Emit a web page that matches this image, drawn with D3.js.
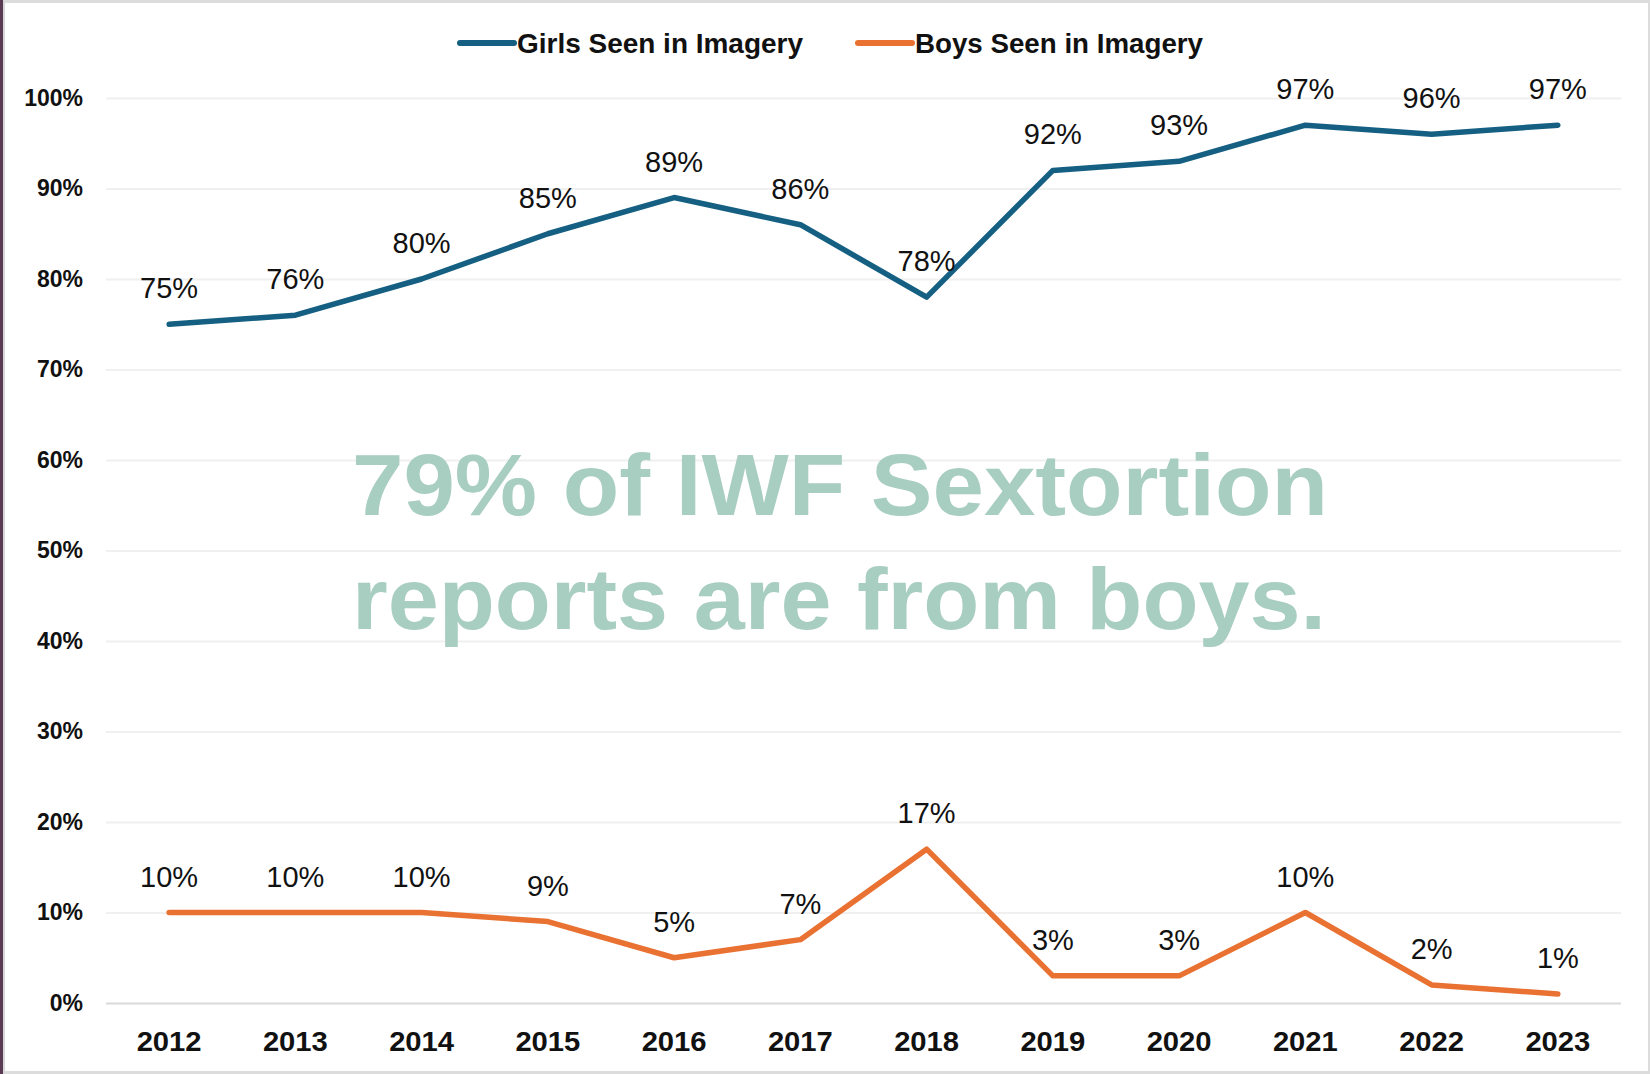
<!DOCTYPE html>
<html>
<head>
<meta charset="utf-8">
<script src="https://cdn.jsdelivr.net/npm/d3@7"></script>
<style>
html,body{margin:0;padding:0;background:#fff;}
svg{display:block;}
</style>
</head>
<body>
<svg id="chart" width="1650" height="1074"></svg>
<script>
const years = ["2012","2013","2014","2015","2016","2017","2018","2019","2020","2021","2022","2023"];
const girls = [75,76,80,85,89,86,78,92,93,97,96,97];
const boys = [10,10,10,9,5,7,17,3,3,10,2,1];
const yTicks = [0,10,20,30,40,50,60,70,80,90,100];
const seriesNames = ["Girls Seen in Imagery","Boys Seen in Imagery"];
const seriesColors = ["#156082","#E97132"];
const overlayLines = ["79% of IWF Sextortion","reports are from boys."];

const svg = d3.select("#chart");
const W = 1650, H = 1074;
const margin = {left:106, right:29, top:98, bottom:71};
const FONT = "'Liberation Sans', Arial, sans-serif";

// frame
svg.append("rect").attr("x",0).attr("y",0).attr("width",W).attr("height",H).attr("fill","#fff");
svg.append("rect").attr("x",0).attr("y",0).attr("width",W).attr("height",3).attr("fill","#dcdcdc");
svg.append("rect").attr("x",0).attr("y",H-3).attr("width",W).attr("height",3).attr("fill","#dcdcdc");
svg.append("rect").attr("x",W-2).attr("y",0).attr("width",2).attr("height",H).attr("fill","#dcdcdc");
svg.append("rect").attr("x",0).attr("y",0).attr("width",3).attr("height",H).attr("fill","#5a3a55");
svg.append("rect").attr("x",3).attr("y",0).attr("width",2).attr("height",H).attr("fill","#d8d8d8");

const x = d3.scaleBand().domain(years).range([margin.left, W - margin.right]);
const y = d3.scaleLinear().domain([0,100]).range([H - margin.bottom, margin.top]);
const cx = d => x(d) + x.bandwidth()/2;

// gridlines + y labels
const yAxis = d3.axisLeft(y).tickValues(yTicks).tickSize(-(W - margin.left - margin.right)).tickFormat(d => d + "%").tickPadding(23);
const gy = svg.append("g").attr("transform", `translate(${margin.left},0)`).call(yAxis);
gy.select(".domain").remove();
gy.selectAll(".tick line").attr("stroke", d => d === 0 ? "#d9d9d9" : "#f0f0f0").attr("stroke-width", 2);
gy.selectAll(".tick text").attr("font-family",FONT).attr("font-weight","bold").attr("font-size","23px").attr("fill","#111");

// x axis
const xAxis = d3.axisBottom(x).tickSize(0).tickPadding(29);
const gx = svg.append("g").attr("transform", `translate(0,${H - margin.bottom})`).call(xAxis);
gx.select(".domain").remove();
gx.selectAll(".tick text").attr("font-family",FONT).attr("font-weight","bold").attr("font-size","27px").attr("fill","#111")
  .attr("textLength",65).attr("lengthAdjust","spacingAndGlyphs");

// overlay text
const ov = svg.append("g");
overlayLines.forEach((t,i) => {
  ov.append("text").attr("x",352).attr("y", i===0 ? 515 : 629)
    .attr("textLength", i===0 ? 976 : 974).attr("lengthAdjust","spacingAndGlyphs")
    .attr("font-family",FONT).attr("font-weight","bold")
    .attr("font-size","88px").attr("fill","#a8cdc1").text(t);
});

// lines
const line = d3.line().x((d,i) => cx(years[i])).y(d => y(d));
[girls, boys].forEach((s,k) => {
  svg.append("path").datum(s).attr("d", line).attr("fill","none")
    .attr("stroke", seriesColors[k]).attr("stroke-width",5.5)
    .attr("stroke-linejoin","round").attr("stroke-linecap","round");
});

// data labels
[girls, boys].forEach((s,k) => {
  svg.append("g").selectAll("text").data(s).join("text")
    .attr("x",(d,i) => cx(years[i])).attr("y", d => y(d) - 26)
    .attr("text-anchor","middle")
    .attr("font-family",FONT).attr("font-size","29px").attr("fill","#111")
    .text(d => d + "%");
});

// legend
const legX = [460, 858];
const legW = [286, 288];
seriesNames.forEach((n,k) => {
  const g = svg.append("g");
  g.append("line").attr("x1",legX[k]).attr("x2",legX[k]+54).attr("y1",43).attr("y2",43)
    .attr("stroke",seriesColors[k]).attr("stroke-width",6).attr("stroke-linecap","round");
  g.append("text").attr("x",legX[k]+57).attr("y",53)
    .attr("textLength",legW[k]).attr("lengthAdjust","spacingAndGlyphs")
    .attr("font-family",FONT).attr("font-weight","bold")
    .attr("font-size","27px").attr("fill","#111").text(n);
});
</script>
</body>
</html>
